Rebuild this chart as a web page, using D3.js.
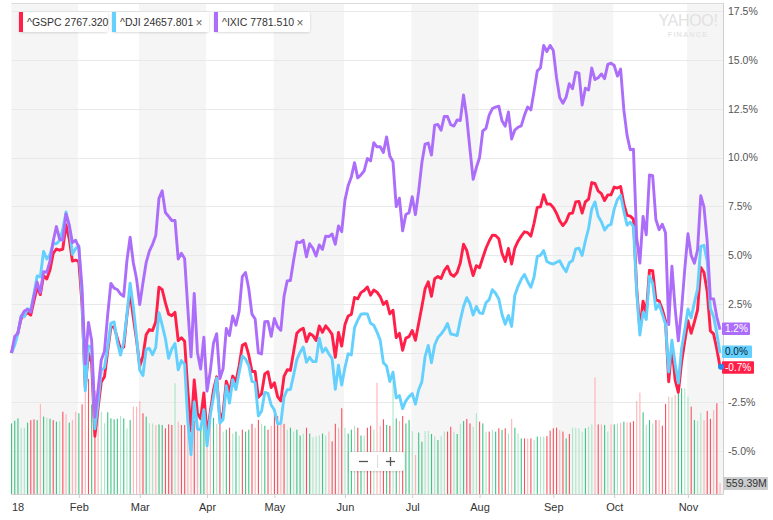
<!DOCTYPE html>
<html>
<head>
<meta charset="utf-8">
<script src="https://cdn.jsdelivr.net/npm/d3@7"></script>
<style>
  body { margin: 0; background: #fff; }
  svg { display: block; font-family: "Helvetica Neue", Helvetica, Arial, "Liberation Sans", sans-serif; }
</style>
</head>
<body>
<svg id="chart" width="773" height="520"></svg>
<script>
// month labels and the trading-day index where each month starts (Jan 2 2018 = 0)
var months = ["18", "Feb", "Mar", "Apr", "May", "Jun", "Jul", "Aug", "Sep", "Oct", "Nov"];
var monthStart = [0, 21, 40, 61, 82, 104, 125, 146, 169, 188, 211];
var yTicks = [-5, -2.5, 0, 2.5, 5, 7.5, 10, 12.5, 15, 17.5];

// % change since the first day
var gspc = [
  0, 0.64, 1.05, 1.76, 1.93, 2.06, 1.94, 2.66, 3.35, 2.99, 3.96, 3.79, 4.25, 5.09, 5.32, 5.26, 5.32, 6.57, 5.85, 4.70, 4.75,
  4.68, 2.46, -1.74, -0.02, -0.52, -4.26, -2.83, -1.48, -1.22, 0.10, 1.31, 1.35, 0.76, 0.20, 0.30, 1.91, 3.11, 1.80, 0.67,
  -0.67, -0.17, 0.93, 1.20, 1.15, 1.60, 3.37, 3.24, 2.58, 1.99, 1.91, 2.08, 0.63, 0.78, 0.60, -1.93, -3.99, -1.38, -3.09, -3.37, -2.04,
  -4.23, -3.02, -1.90, -1.22, -3.39, -3.07, -1.44, -1.99, -1.18, -1.47, -0.67, 0.39, 0.48, -0.10, -0.95, -0.95, -2.27, -2.09, -1.07, -0.96, -1.77,
  -1.52, -2.23, -2.45, -1.20, -0.86, -0.89, 0.07, 1.01, 1.18, 1.27, 0.58, 0.99, 0.90, 0.64, 1.38, 1.06, 1.39, 1.19, 0.95, -0.22, 1.05, 0.35,
  1.44, 1.89, 1.97, 2.84, 2.77, 3.09, 3.20, 3.38, 2.96, 3.22, 3.11, 2.89, 2.48, 2.65, 2.00, 2.19, 0.79, 1.01, 0.14, 0.76, 0.84,
  1.15, 0.65, 1.51, 2.37, 3.28, 3.64, 2.90, 3.80, 3.91, 3.81, 4.22, 4.44, 4.03, 3.93, 4.12, 4.62, 5.57, 5.25, 4.56, 3.96, 4.47,
  4.36, 4.87, 5.36, 5.73, 6.03, 6.01, 5.85, 5.10, 4.68, 5.35, 4.55, 5.37, 5.72, 5.98, 6.20, 6.16, 5.98, 6.64, 7.45, 7.48, 8.10, 7.62, 7.63,
  7.45, 7.15, 6.76, 6.52, 6.73, 7.13, 7.16, 7.73, 7.76, 7.16, 7.73, 7.87, 8.72, 8.68, 8.29, 8.15, 7.80, 8.09, 8.09,
  8.49, 8.44, 8.52, 7.63, 7.04, 7.00, 6.85, 3.33, 1.21, 2.65, 2.04, 4.23, 4.21, 2.71, 2.67, 2.23, 1.66, -1.47, 0.36, -1.38, -2.02, -0.49, 0.59,
  1.65, 1.01, 1.58, 2.21, 4.38, 4.12, 3.16, 1.13, 0.98, 0.21, -0.70
];

var dji = [
  0, 0.40, 1.01, 1.90, 1.85, 2.26, 2.20, 3.02, 3.94, 3.90, 5.20, 4.81, 5.03, 5.60, 5.59, 5.75, 6.32, 7.22, 6.51, 5.05, 5.34,
  5.49, 2.81, -1.93, 0.36, 0.28, -3.88, -2.55, -0.90, -0.74, 0.28, 1.52, 1.59, 0.57, -0.11, 0.56, 1.96, 3.57, 2.36, 0.83,
  -0.87, -1.15, 0.20, 0.24, -0.09, 0.29, 2.06, 1.43, 0.74, -0.27, 0.20, 0.49, -0.86, -0.39, -0.57, -3.49, -5.20, -2.50, -3.89, -3.93, -2.90,
  -4.75, -3.19, -2.25, -1.28, -3.59, -3.40, -1.68, -2.56, -1.37, -1.87, -1.01, -0.15, -0.31, -0.64, -1.45, -1.51, -3.22, -2.98, -2.02, -2.07, -2.66,
  -2.92, -3.62, -3.60, -2.26, -1.88, -1.87, -1.13, -0.34, 0.03, 0.30, -0.47, -0.22, -0.44, -0.44, 0.76, 0.04, 0.25, -0.05, -0.29, -1.86, -0.63, -1.64,
  -0.76, -0.04, -0.10, 1.30, 1.68, 1.98, 2.01, 2.00, 1.52, 1.42, 1.07, 0.66, -0.50, -0.67, -1.46, -0.98, -2.30, -2.18, -2.85, -2.45, -2.23,
  -2.08, -2.62, -1.88, -1.48, -0.19, 0.39, -0.50, 0.41, 0.79, 0.97, 1.19, 1.51, 0.97, 0.94, 0.89, 1.68, 2.38, 2.83, 2.53, 1.94, 2.38,
  2.05, 2.02, 2.57, 2.73, 3.24, 3.06, 2.76, 1.97, 1.47, 1.92, 1.36, 2.96, 3.41, 3.77, 4.02, 3.66, 3.36, 3.89, 4.94, 5.00, 5.24, 4.68, 4.60,
  4.55, 4.64, 4.72, 4.40, 4.16, 4.62, 4.73, 5.33, 5.36, 4.99, 5.73, 6.37, 7.38, 7.73, 7.00, 6.72, 6.29, 6.51, 6.58,
  7.36, 7.85, 8.07, 7.26, 6.54, 6.70, 6.47, 3.12, 0.92, 2.08, 1.72, 3.93, 3.56, 2.24, 2.50, 1.99, 1.48, -0.97, 0.65, -0.55, -1.54, 0.20, 1.18,
  2.24, 1.80, 2.57, 3.27, 5.46, 5.51, 4.69, 2.27, 1.86, 1.03, 0.00
];

var ixic = [
  0, 0.84, 1.01, 1.85, 2.15, 2.24, 2.09, 2.92, 3.63, 3.09, 4.16, 4.13, 4.70, 5.72, 6.47, 5.83, 5.77, 7.12, 6.56, 5.65, 5.77,
  5.41, 3.34, -0.56, 1.56, 0.64, -3.28, -1.89, -0.36, 0.09, 1.95, 3.56, 3.32, 3.25, 3.02, 2.90, 4.72, 5.92, 4.62, 3.80,
  2.48, 3.58, 4.62, 5.21, 5.56, 6.01, 7.91, 8.30, 7.19, 6.99, 6.78, 6.78, 4.81, 5.10, 4.83, 2.28, -0.20, 3.05, 0.03, -0.82, 0.81,
  -1.95, -0.94, 0.50, 0.99, -1.31, -0.81, 1.25, 0.89, 1.90, 1.42, 2.13, 3.91, 4.12, 3.30, 1.99, 1.74, 0.01, -0.05, 1.60, 1.61, 0.85,
  1.77, 1.34, 1.16, 2.89, 3.69, 3.71, 4.75, 5.68, 5.65, 5.77, 4.92, 5.59, 5.36, 4.96, 5.53, 5.30, 5.98, 5.96, 6.09, 5.56, 6.50, 6.21,
  7.81, 8.56, 9.00, 9.74, 8.96, 9.11, 9.32, 9.95, 9.83, 10.76, 10.55, 10.56, 10.26, 11.06, 10.08, 9.79, 7.49, 7.92, 6.25, 7.09, 7.18,
  8.00, 7.08, 8.27, 9.73, 10.69, 10.74, 10.13, 11.66, 11.69, 11.40, 12.11, 12.10, 11.68, 11.61, 11.92, 11.90, 13.21, 12.06, 10.43, 8.89, 9.49,
  10.00, 11.36, 11.49, 12.17, 12.51, 12.58, 12.63, 11.88, 11.60, 12.33, 10.95, 11.41, 11.55, 11.62, 12.16, 12.59, 12.44, 13.40, 14.43, 14.60, 15.74, 15.43, 15.74,
  15.48, 14.10, 13.07, 12.78, 13.09, 13.78, 13.52, 14.37, 14.32, 12.69, 13.55, 13.46, 14.58, 13.99, 14.08, 14.28, 14.04, 14.77, 14.83,
  14.71, 14.17, 14.53, 12.45, 11.15, 10.40, 10.43, 5.92, 4.60, 6.99, 6.05, 9.11, 9.07, 6.83, 6.31, 6.59, 6.15, 1.45, 4.44, 2.29, 0.62, 2.21, 4.27,
  6.10, 5.00, 4.59, 5.27, 8.05, 7.48, 5.71, 2.77, 2.77, 1.85, 1.20
];

// volume, billions of shares
var volume = [
  3.62, 3.76, 3.88, 3.40, 3.40, 3.66, 3.79, 3.83, 3.79, 4.62, 3.97, 3.91, 3.86, 3.79, 3.71, 3.74, 4.22, 4.09, 3.66, 3.79, 4.22,
  4.14, 4.60, 5.30, 5.90, 4.60, 5.30, 4.22, 4.22, 3.62, 4.19, 3.88, 3.83, 3.86, 4.00, 3.88, 3.37, 3.79, 4.48, 4.48,
  4.77, 4.14, 3.97, 3.62, 3.62, 3.54, 3.57, 3.54, 3.37, 3.57, 3.54, 5.68, 3.71, 3.54, 3.54, 3.90, 4.20, 3.76, 4.14, 3.54, 4.14,
  3.71, 4.14, 3.90, 3.60, 3.80, 3.20, 3.30, 3.40, 3.10, 3.20, 3.00, 3.30, 3.20, 3.30, 3.60, 3.40, 3.80, 3.60, 3.50, 3.30, 3.50,
  4.10, 4.00, 3.90, 3.60, 3.30, 3.40, 3.20, 3.30, 3.00, 3.10, 3.40, 3.10, 2.90, 2.95, 3.00, 3.10, 3.00, 3.20, 2.70, 3.60, 3.40, 4.40,
  3.40, 3.10, 3.30, 3.50, 3.40, 3.00, 3.00, 3.40, 3.50, 3.30, 5.70, 3.50, 3.83, 3.54, 3.50, 5.76, 3.88, 3.74, 4.00, 3.62, 3.79,
  3.23, 2.00, 3.15, 2.68, 3.23, 3.23, 3.08, 2.97, 2.77, 2.97, 3.20, 3.20, 3.45, 3.20, 3.08, 3.59, 3.74, 3.85, 3.62, 3.45, 4.14,
  3.71, 3.62, 3.20, 3.20, 3.28, 3.20, 3.37, 3.28, 3.37, 3.11, 3.85, 3.40, 3.11, 2.85, 2.85, 2.85, 2.85, 2.77, 2.94, 2.94, 2.94, 2.97, 3.25,
  3.37, 3.40, 3.28, 3.20, 2.85, 3.08, 3.40, 3.40, 3.37, 3.20, 3.37, 3.45, 3.57, 5.98, 3.57, 3.57, 3.54, 3.20, 3.57,
  3.57, 3.62, 3.66, 3.71, 3.67, 3.67, 3.74, 4.77, 5.20, 4.19, 3.54, 3.79, 3.62, 3.79, 3.79, 3.50, 4.62, 4.99, 4.96, 5.08, 5.16, 5.42, 5.42,
  4.99, 4.48, 3.79, 3.74, 4.17, 3.79, 4.26, 3.85, 4.31, 4.65, 0.56
];

// bar shade: G dark green, g light green, R dark red, r light red
var volShade = (
  "GGGggGRRGrGgGRGgRrGrr" +
  "GRrRGRrggGGGGgGgGrr" +
  "rRGggrGGRRRgrRRrrRrGG" +
  "rrGgRgGRgGgRGGRrRgGRr" +
  "RRrRgGgGGgRGgggGgrRRrR" +
  "gGGgRGgRRgrrRGRgGrRGG" +
  "grGGggGgGggRRgGgGRRgg" +
  "RGgRgGRGRgrGgGRrRgGggRR" +
  "RRrRGRggggGggrRrGgr" +
  "GgrGrRRrrGgGgRrRRrgrGGg" +
  "gRGggrRRrRr"
).split("");

var shadeColor = { G: "#3ec383", g: "#abe6c8", R: "#f7525f", r: "#ffb3b6" };

var series = [
  { name: "^GSPC", price: "2767.320", color: "#ff1f48", values: gspc, closable: false },
  { name: "^DJI", price: "24657.801", color: "#64d0fd", values: dji, closable: true },
  { name: "^IXIC", price: "7781.510", color: "#ad6dfb", values: ixic, closable: true }
];

var svg = d3.select("#chart");
var plotLeft = 11.5, plotRight = 723, plotTop = 3, plotBottom = 494;

var x = d3.scaleLinear().domain([0, gspc.length - 1]).range([11.5, 720]);
var y = d3.scaleLinear().domain([-5, 17.5]).range([450.7, 11]);
var yVol = d3.scaleLinear().domain([0, 7]).range([plotBottom, plotBottom - 7 * 19.5]);

var defs = svg.append("defs");
var shadow = defs.append("filter").attr("id", "shadow")
  .attr("x", "-10%").attr("y", "-30%").attr("width", "120%").attr("height", "160%");
shadow.append("feDropShadow").attr("dx", 0).attr("dy", 0.6).attr("stdDeviation", 0.9)
  .attr("flood-color", "#000").attr("flood-opacity", 0.18);

// month bands
var bandEdges = monthStart.map(function(d, i) { return i == 0 ? plotLeft : x(d) - 0.8; });
bandEdges.push(plotRight);
svg.append("g").selectAll("rect")
  .data(monthStart)
  .enter().append("rect")
  .attr("x", function(d, i) { return bandEdges[i]; })
  .attr("y", plotTop)
  .attr("width", function(d, i) { return bandEdges[i + 1] - bandEdges[i]; })
  .attr("height", plotBottom - plotTop)
  .attr("fill", function(d, i) { return i % 2 == 0 ? "#f5f5f5" : "#fff"; });

// horizontal grid
svg.append("g").selectAll("line")
  .data(yTicks)
  .enter().append("line")
  .attr("x1", plotLeft).attr("x2", plotRight)
  .attr("y1", function(d) { return Math.round(y(d)) + 0.5; })
  .attr("y2", function(d) { return Math.round(y(d)) + 0.5; })
  .attr("stroke", "#e9e9e9");

// top border
svg.append("line").attr("x1", plotLeft).attr("x2", plotRight)
  .attr("y1", plotTop + 0.5).attr("y2", plotTop + 0.5).attr("stroke", "#dcdcdc");

// volume bars
svg.append("g").selectAll("rect")
  .data(volume)
  .enter().append("rect")
  .attr("x", function(d, i) { return x(i) - 0.5; })
  .attr("y", function(d) { return yVol(d); })
  .attr("width", 1.1)
  .attr("height", function(d) { return plotBottom - yVol(d); })
  .attr("fill", function(d, i) { return shadeColor[volShade[i]]; });

// axes
var yAxis = d3.axisRight(y)
  .tickValues(yTicks)
  .tickFormat(function(d) { return d.toFixed(1) + "%"; })
  .tickSize(0)
  .tickPadding(5);
var gy = svg.append("g").attr("transform", "translate(" + plotRight + ",0)").call(yAxis);
gy.select(".domain").remove();
gy.selectAll("text").attr("fill", "#555").attr("font-size", 10.5)
  .attr("font-family", "\"Helvetica Neue\", Helvetica, Arial, \"Liberation Sans\", sans-serif");
// the 0.0% axis label sits under the DJI end tag
gy.selectAll(".tick").filter(function(d) { return d == 0; }).select("text").remove();

var xAxis = d3.axisBottom(x)
  .tickValues(monthStart)
  .tickFormat(function(d, i) { return months[i]; })
  .tickSize(4)
  .tickPadding(5);
var gx = svg.append("g").attr("transform", "translate(0," + plotBottom + ")").call(xAxis);
gx.select(".domain").remove();
gx.selectAll("line").attr("stroke", "#cfcfcf");
gx.selectAll("text").attr("fill", "#333").attr("font-size", 11)
  .attr("font-family", "\"Helvetica Neue\", Helvetica, Arial, \"Liberation Sans\", sans-serif");
gx.selectAll(".tick").filter(function(d) { return d == 0; })
  .select("text").attr("text-anchor", "start").attr("x", 0);
gx.selectAll(".tick").filter(function(d) { return d == 0; }).select("line").remove();

svg.append("line").attr("x1", plotLeft).attr("x2", plotRight + 0.5)
  .attr("y1", plotBottom + 0.5).attr("y2", plotBottom + 0.5).attr("stroke", "#cfcfcf");
svg.append("line").attr("x1", plotRight + 0.5).attr("x2", plotRight + 0.5)
  .attr("y1", plotTop).attr("y2", plotBottom).attr("stroke", "#cfcfcf");

// watermark
svg.append("text").attr("x", 688).attr("y", 25.5).attr("text-anchor", "middle")
  .attr("font-size", 16).attr("fill", "#e2e2e2").attr("letter-spacing", -0.3)
  .text("YAHOO!");
svg.append("text").attr("x", 688).attr("y", 37).attr("text-anchor", "middle")
  .attr("font-size", 7.5).attr("font-weight", "bold").attr("fill", "#e6e6e6").attr("letter-spacing", 1)
  .text("FINANCE");

// lines
var line = d3.line()
  .x(function(d, i) { return x(i); })
  .y(function(d) { return y(d); });

svg.append("g").selectAll("path")
  .data(series)
  .enter().append("path")
  .attr("d", function(s) { return line(s.values); })
  .attr("fill", "none")
  .attr("stroke", function(s) { return s.color; })
  .attr("stroke-width", 2.9)
  .attr("stroke-linejoin", "round");

// zoom control
var zc = svg.append("g");
zc.append("rect").attr("x", 349).attr("y", 452).attr("width", 55).attr("height", 19)
  .attr("rx", 2).attr("fill", "#fff").attr("filter", "url(#shadow)");
zc.append("line").attr("x1", 377.5).attr("x2", 377.5).attr("y1", 455).attr("y2", 468).attr("stroke", "#ddd");
zc.append("line").attr("x1", 359).attr("x2", 368).attr("y1", 461.5).attr("y2", 461.5).attr("stroke", "#555").attr("stroke-width", 1.3);
zc.append("line").attr("x1", 386).attr("x2", 395).attr("y1", 461.5).attr("y2", 461.5).attr("stroke", "#555").attr("stroke-width", 1.3);
zc.append("line").attr("x1", 390.5).attr("x2", 390.5).attr("y1", 457).attr("y2", 466).attr("stroke", "#555").attr("stroke-width", 1.3);

// legend chips
var chipX = [19, 112, 214];
var chipW = [89, 97, 96];
var chips = svg.append("g").selectAll("g")
  .data(series)
  .enter().append("g")
  .attr("transform", function(d, i) { return "translate(" + chipX[i] + ",12)"; });
chips.append("rect").attr("width", function(d, i) { return chipW[i]; }).attr("height", 20)
  .attr("rx", 2).attr("fill", "#fff").attr("filter", "url(#shadow)");
chips.append("rect").attr("width", 4).attr("height", 20).attr("fill", function(d) { return d.color; });
chips.append("text").attr("x", 8).attr("y", 14).attr("font-size", 10.5).attr("fill", "#333")
  .text(function(d) { return d.name + " " + d.price; });
chips.filter(function(d) { return d.closable; })
  .append("text").attr("x", function(d, i) { return chipW[i + 1] - 10; }).attr("y", 14.5)
  .attr("text-anchor", "middle").attr("font-size", 12).attr("fill", "#666").text("×");

// end-of-line value labels
var last = gspc.length - 1;
var endTags = [
  { s: series[2], w: 28, dy: -7, text: "#fff" },
  { s: series[1], w: 30, dy: -7.5, text: "#0d2233" },
  { s: series[0], w: 32, dy: -5.5, text: "#fff" }
];
var tags = svg.append("g").selectAll("g")
  .data(endTags)
  .enter().append("g")
  .attr("transform", function(d) { return "translate(722," + (y(d.s.values[last]) + d.dy) + ")"; });
tags.append("rect").attr("width", function(d) { return d.w; }).attr("height", 12.5).attr("rx", 1)
  .attr("fill", function(d) { return d.s.color; });
tags.append("text").attr("x", 3).attr("y", 9.5).attr("font-size", 10)
  .attr("fill", function(d) { return d.text; })
  .text(function(d) { return d.s.values[last].toFixed(1) + "%"; });

svg.append("circle").attr("cx", x(last) + 1).attr("cy", y(gspc[last])).attr("r", 3).attr("fill", "#1f8ef0");

// current volume tag
var vt = svg.append("g").attr("transform", "translate(723,477)");
vt.append("rect").attr("width", 45).attr("height", 13).attr("rx", 1).attr("fill", "#cbccce");
vt.append("text").attr("x", 3).attr("y", 10).attr("font-size", 10.5).attr("fill", "#333")
  .text("559.39M");
</script>
</body>
</html>
